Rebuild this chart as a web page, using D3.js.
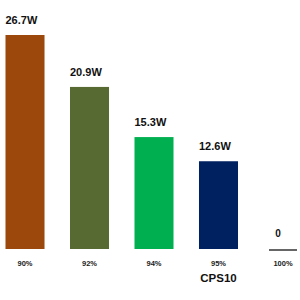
<!DOCTYPE html>
<html>
<head>
<meta charset="utf-8">
<script src="https://cdn.jsdelivr.net/npm/d3@7"></script>
<style>
  body { margin: 0; background: #fff; }
  text { font-family: "Liberation Sans", Arial, sans-serif; font-weight: bold; fill: #111; }
</style>
</head>
<body>
<script>
const categories = ["90%", "92%", "94%", "95%", "100%"];
const values = [26.7, 20.9, 15.3, 12.6, 0];
const valueLabels = ["26.7W", "20.9W", "15.3W", "12.6W", "0"];
const colors = ["#9c470b", "#566a31", "#00b050", "#00215f", "#333"];
const groupLabel = "CPS10";

const svg = d3.select("body")
  .append("svg")
  .attr("width", 300)
  .attr("height", 300);

const base = 249;

const x = d3.scaleBand()
  .domain(categories)
  .range([5.5, 302.5])
  .paddingInner(0.395)
  .paddingOuter(0);

// the picture's bars do not start from zero
const y = d3.scaleLinear()
  .domain([2.8, 26.7])
  .range([base, 35]);

const data = categories.map(function (c, i) {
  return { cat: c, value: values[i], label: valueLabels[i], color: colors[i] };
});

const bars = data.filter(function (d) { return d.value > 0; });
const empties = data.filter(function (d) { return d.value === 0; });

svg.selectAll(".bar")
  .data(bars)
  .enter().append("rect")
  .attr("class", "bar")
  .attr("x", function (d) { return x(d.cat); })
  .attr("y", function (d) { return y(d.value); })
  .attr("width", x.bandwidth())
  .attr("height", function (d) { return base - y(d.value); })
  .attr("fill", function (d) { return d.color; });

svg.selectAll(".val")
  .data(bars)
  .enter().append("text")
  .attr("class", "val")
  .attr("x", function (d) { return x(d.cat); })
  .attr("y", function (d) { return y(d.value) - 11; })
  .attr("font-size", "11px")
  .text(function (d) { return d.label; });

// zero value: just a short line on the baseline
svg.selectAll(".zero")
  .data(empties)
  .enter().append("line")
  .attr("class", "zero")
  .attr("x1", function (d) { return x(d.cat) + x.bandwidth() / 2 - 14; })
  .attr("x2", function (d) { return x(d.cat) + x.bandwidth() / 2 + 14; })
  .attr("y1", base + 1)
  .attr("y2", base + 1)
  .attr("stroke", function (d) { return d.color; })
  .attr("stroke-width", 1.5);

svg.selectAll(".zeroval")
  .data(empties)
  .enter().append("text")
  .attr("class", "zeroval")
  .attr("x", function (d) { return x(d.cat) + x.bandwidth() / 2 - 5; })
  .attr("y", base - 12)
  .attr("text-anchor", "middle")
  .attr("font-size", "10px")
  .text(function (d) { return d.label; });

const axis = svg.append("g")
  .attr("transform", "translate(0," + 266 + ")")
  .call(d3.axisBottom(x).tickSize(0).tickPadding(0));

axis.select(".domain").remove();
axis.selectAll("text")
  .attr("dy", 0)
  .attr("font-size", "7.5px")
  .style("fill", "#222");

svg.append("text")
  .attr("x", x("95%") + x.bandwidth() / 2)
  .attr("y", 282)
  .attr("text-anchor", "middle")
  .attr("font-size", "11.5px")
  .text(groupLabel);
</script>
</body>
</html>
